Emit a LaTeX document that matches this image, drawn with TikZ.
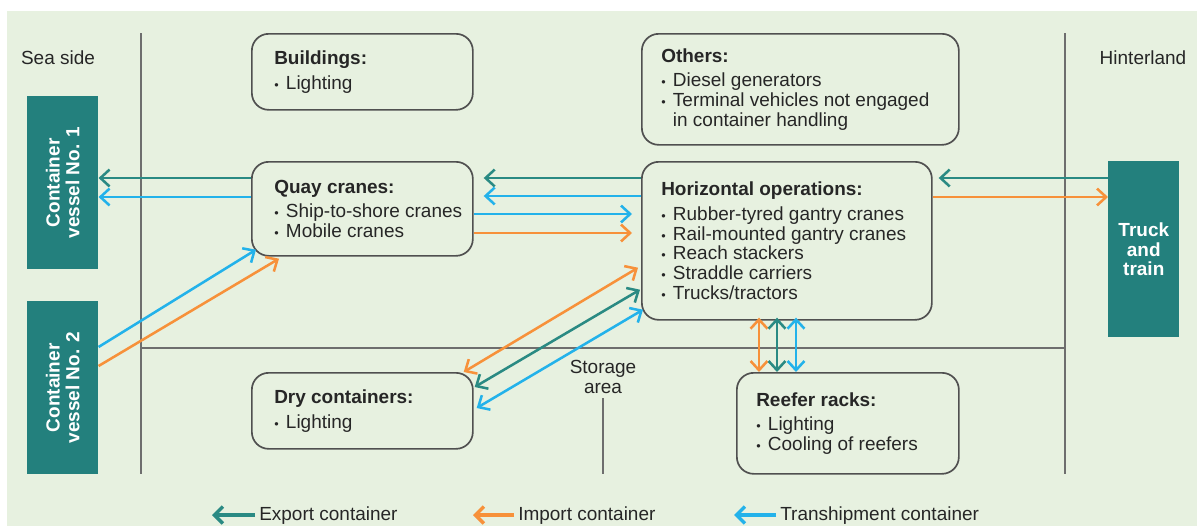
\documentclass[tikz,border=0pt]{standalone}
\usepackage{fontspec}
\setmainfont{Liberation Sans}
\usetikzlibrary{arrows.meta,calc}

\definecolor{bgcol}{HTML}{E7F1E0}
\definecolor{shipcol}{HTML}{23807D}
\definecolor{expcol}{HTML}{2A8A83}
\definecolor{impcol}{HTML}{F7913A}
\definecolor{trncol}{HTML}{23B2EA}
\definecolor{boxcol}{HTML}{505050}
\definecolor{linecol}{HTML}{6E6E6E}
\definecolor{txtcol}{HTML}{262626}

\newlength\pxl
\setlength\pxl{0.025cm}
\newcommand\bul{\makebox[8.3pt][l]{\small\textbullet}}

\begin{document}
\begin{tikzpicture}[x=0.025cm, y=-0.025cm,
        font=\fontsize{13.5}{14}\selectfont, text=txtcol,
        area/.style={draw=boxcol, line width=1.2pt, rounded corners=12pt, anchor=north west, inner sep=0pt},
        areatext/.style={anchor=west, align=left, inner sep=0pt},
        ship/.style={fill=shipcol, anchor=north west, inner sep=0pt},
        shiptext/.style={text=white, font=\fontsize{13.5}{14}\selectfont\bfseries, align=center, inner sep=0pt},
        flow/.style={line width=1.8pt, -{Straight Barb[length=6.5pt,width=12pt]}},
        twoway/.style={line width=1.8pt, {Straight Barb[length=6.5pt,width=12pt]}-{Straight Barb[length=6.5pt,width=12pt]}},
        keyline/.style={line width=2.5pt, -{Straight Barb[length=6pt,width=12pt]}},
        divider/.style={draw=linecol, line width=1.3pt}]

        % --- Background ---
        \useasboundingbox (0,0) rectangle (1197,526);
        \fill[bgcol] (7,11) rectangle (1197,526);
        % ---

        % --- Zone dividers and zone names ---
        \draw[divider] (141,33) -- (141,474);
        \draw[divider] (1065,33) -- (1065,474);
        \draw[divider] (141,348) -- (1065,348);
        \draw[divider] (603,398) -- (603,474);
        \node (sea) at (58,58) {Sea side};
        \node (hinter) at (1143,58) {Hinterland};
        \node[align=center, inner sep=0pt] (storage) at (603,377) {Storage\\area};
        % ---

        % --- Vessels, truck and train ---
        \node[ship, minimum width=71\pxl, minimum height=173\pxl] (vessel1) at (27,96) {};
        \node[shiptext, rotate=90] (vessel1-t) at (vessel1.center) {Container\\vessel No. 1};
        \node[ship, minimum width=71\pxl, minimum height=173\pxl] (vessel2) at (27,301) {};
        \node[shiptext, rotate=90] (vessel2-t) at (vessel2.center) {Container\\vessel No. 2};
        \node[ship, minimum width=71\pxl, minimum height=176\pxl] (truck) at (1108,161) {};
        \node[shiptext] (truck-t) at (truck.center) {Truck\\and\\train};
        % ---

        % --- Energy consumers ---
        \node[area, minimum width=221\pxl, minimum height=76\pxl] (build) at (251,33) {};
        \node[areatext] (build-t) at ($(build.west)+(23,0)$) {\textbf{Buildings:}\\[3.5pt]\bul Lighting};

        \node[area, minimum width=317\pxl, minimum height=111\pxl] (others) at (641,33) {};
        \node[areatext] (others-t) at ($(others.west)+(20,0)$) {\textbf{Others:}\\[3.5pt]\bul Diesel generators\\\bul Terminal vehicles not engaged\\\hspace*{8.3pt}in container handling};

        \node[area, minimum width=221\pxl, minimum height=94\pxl] (quay) at (251,161) {};
        \node[areatext] (quay-t) at ($(quay.west)+(23,0)$) {\textbf{Quay cranes:}\\[3.5pt]\bul Ship-to-shore cranes\\\bul Mobile cranes};

        \node[area, minimum width=290\pxl, minimum height=158\pxl] (horiz) at (641,161) {};
        \node[areatext] (horiz-t) at ($(horiz.west)+(20,0)$) {\textbf{Horizontal operations:}\\[3.5pt]\bul Rubber-tyred gantry cranes\\\bul Rail-mounted gantry cranes\\\bul Reach stackers\\\bul Straddle carriers\\\bul Trucks/tractors};

        \node[area, minimum width=221\pxl, minimum height=76\pxl] (dry) at (251,372) {};
        \node[areatext] (dry-t) at ($(dry.west)+(23,0)$) {\textbf{Dry containers:}\\[3.5pt]\bul Lighting};

        \node[area, minimum width=222\pxl, minimum height=101\pxl] (reefer) at (736,372) {};
        \node[areatext] (reefer-t) at ($(reefer.west)+(20,0)$) {\textbf{Reefer racks:}\\[3.5pt]\bul Lighting\\\bul Cooling of reefers};
        % ---

        % --- Quay cranes and the vessels ---
        \coordinate (q1) at ($(quay.north west)+(0,17)$);
        \coordinate (q2) at ($(quay.north west)+(0,36)$);
        \draw[flow, expcol] (q1) -- (q1 -| vessel1.east);
        \draw[flow, trncol] (q2) -- (q2 -| vessel1.east);
        \draw[flow, trncol] ($(vessel2.north east)+(0,46)$) -- ($(quay.south west)+(5,-7)$);
        \draw[flow, impcol] ($(vessel2.north east)+(0,65)$) -- ($(quay.south west)+(28,2)$);
        % ---

        % --- Quay cranes and horizontal operations ---
        \coordinate (h1) at ($(horiz.north west)+(0,17)$);
        \coordinate (h2) at ($(horiz.north west)+(0,35)$);
        \coordinate (q3) at ($(quay.north east)+(0,53)$);
        \coordinate (q4) at ($(quay.north east)+(0,72)$);
        \draw[flow, expcol] (h1) -- ($(h1 -| quay.east)+(10,0)$);
        \draw[flow, trncol] (h2) -- ($(h2 -| quay.east)+(10,0)$);
        \draw[flow, trncol] (q3) -- ($(q3 -| horiz.west)+(-9,0)$);
        \draw[flow, impcol] (q4) -- ($(q4 -| horiz.west)+(-9,0)$);
        % ---

        % --- Horizontal operations and truck and train ---
        \coordinate (t1) at ($(truck.north west)+(0,17)$);
        \coordinate (t2) at ($(truck.north west)+(0,36)$);
        \draw[flow, expcol] (t1) -- ($(t1 -| horiz.east)+(6,0)$);
        \draw[flow, impcol] (t2 -| horiz.east) -- (t2);
        % ---

        % --- Horizontal operations and storage area ---
        \draw[twoway, impcol] ($(horiz.south west)+(-3,-53)$) -- ($(dry.north east)+(-10,0)$);
        \draw[twoway, expcol] ($(horiz.south west)+(-1,-31)$) -- ($(dry.north east)+(1,15)$);
        \draw[twoway, trncol] ($(horiz.south west)+(2,-11)$) -- ($(dry.north east)+(3,36)$);
        \coordinate (r1) at ($(reefer.north west)+(23,0)$);
        \coordinate (r2) at ($(reefer.north west)+(41,0)$);
        \coordinate (r3) at ($(reefer.north west)+(60,0)$);
        \draw[twoway, impcol] ($(r1 |- horiz.south)+(0,-3)$) -- (r1);
        \draw[twoway, expcol] ($(r2 |- horiz.south)+(0,-3)$) -- (r2);
        \draw[twoway, trncol] ($(r3 |- horiz.south)+(0,-3)$) -- (r3);
        % ---

        % --- Legend ---
        \node[anchor=west, inner sep=0pt] (key-exp) at (259,516) {Export container};
        \node[anchor=west, inner sep=0pt] (key-imp) at (518,516) {Import container};
        \node[anchor=west, inner sep=0pt] (key-trn) at (780,516) {Transhipment container};
        \draw[keyline, expcol] ($(key-exp.west)+(-4,-1)$) -- ++(-43,0);
        \draw[keyline, impcol] ($(key-imp.west)+(-4,-1)$) -- ++(-41,0);
        \draw[keyline, trncol] ($(key-trn.west)+(-4,-1)$) -- ++(-42,0);
        % ---
\end{tikzpicture}
\end{document}
